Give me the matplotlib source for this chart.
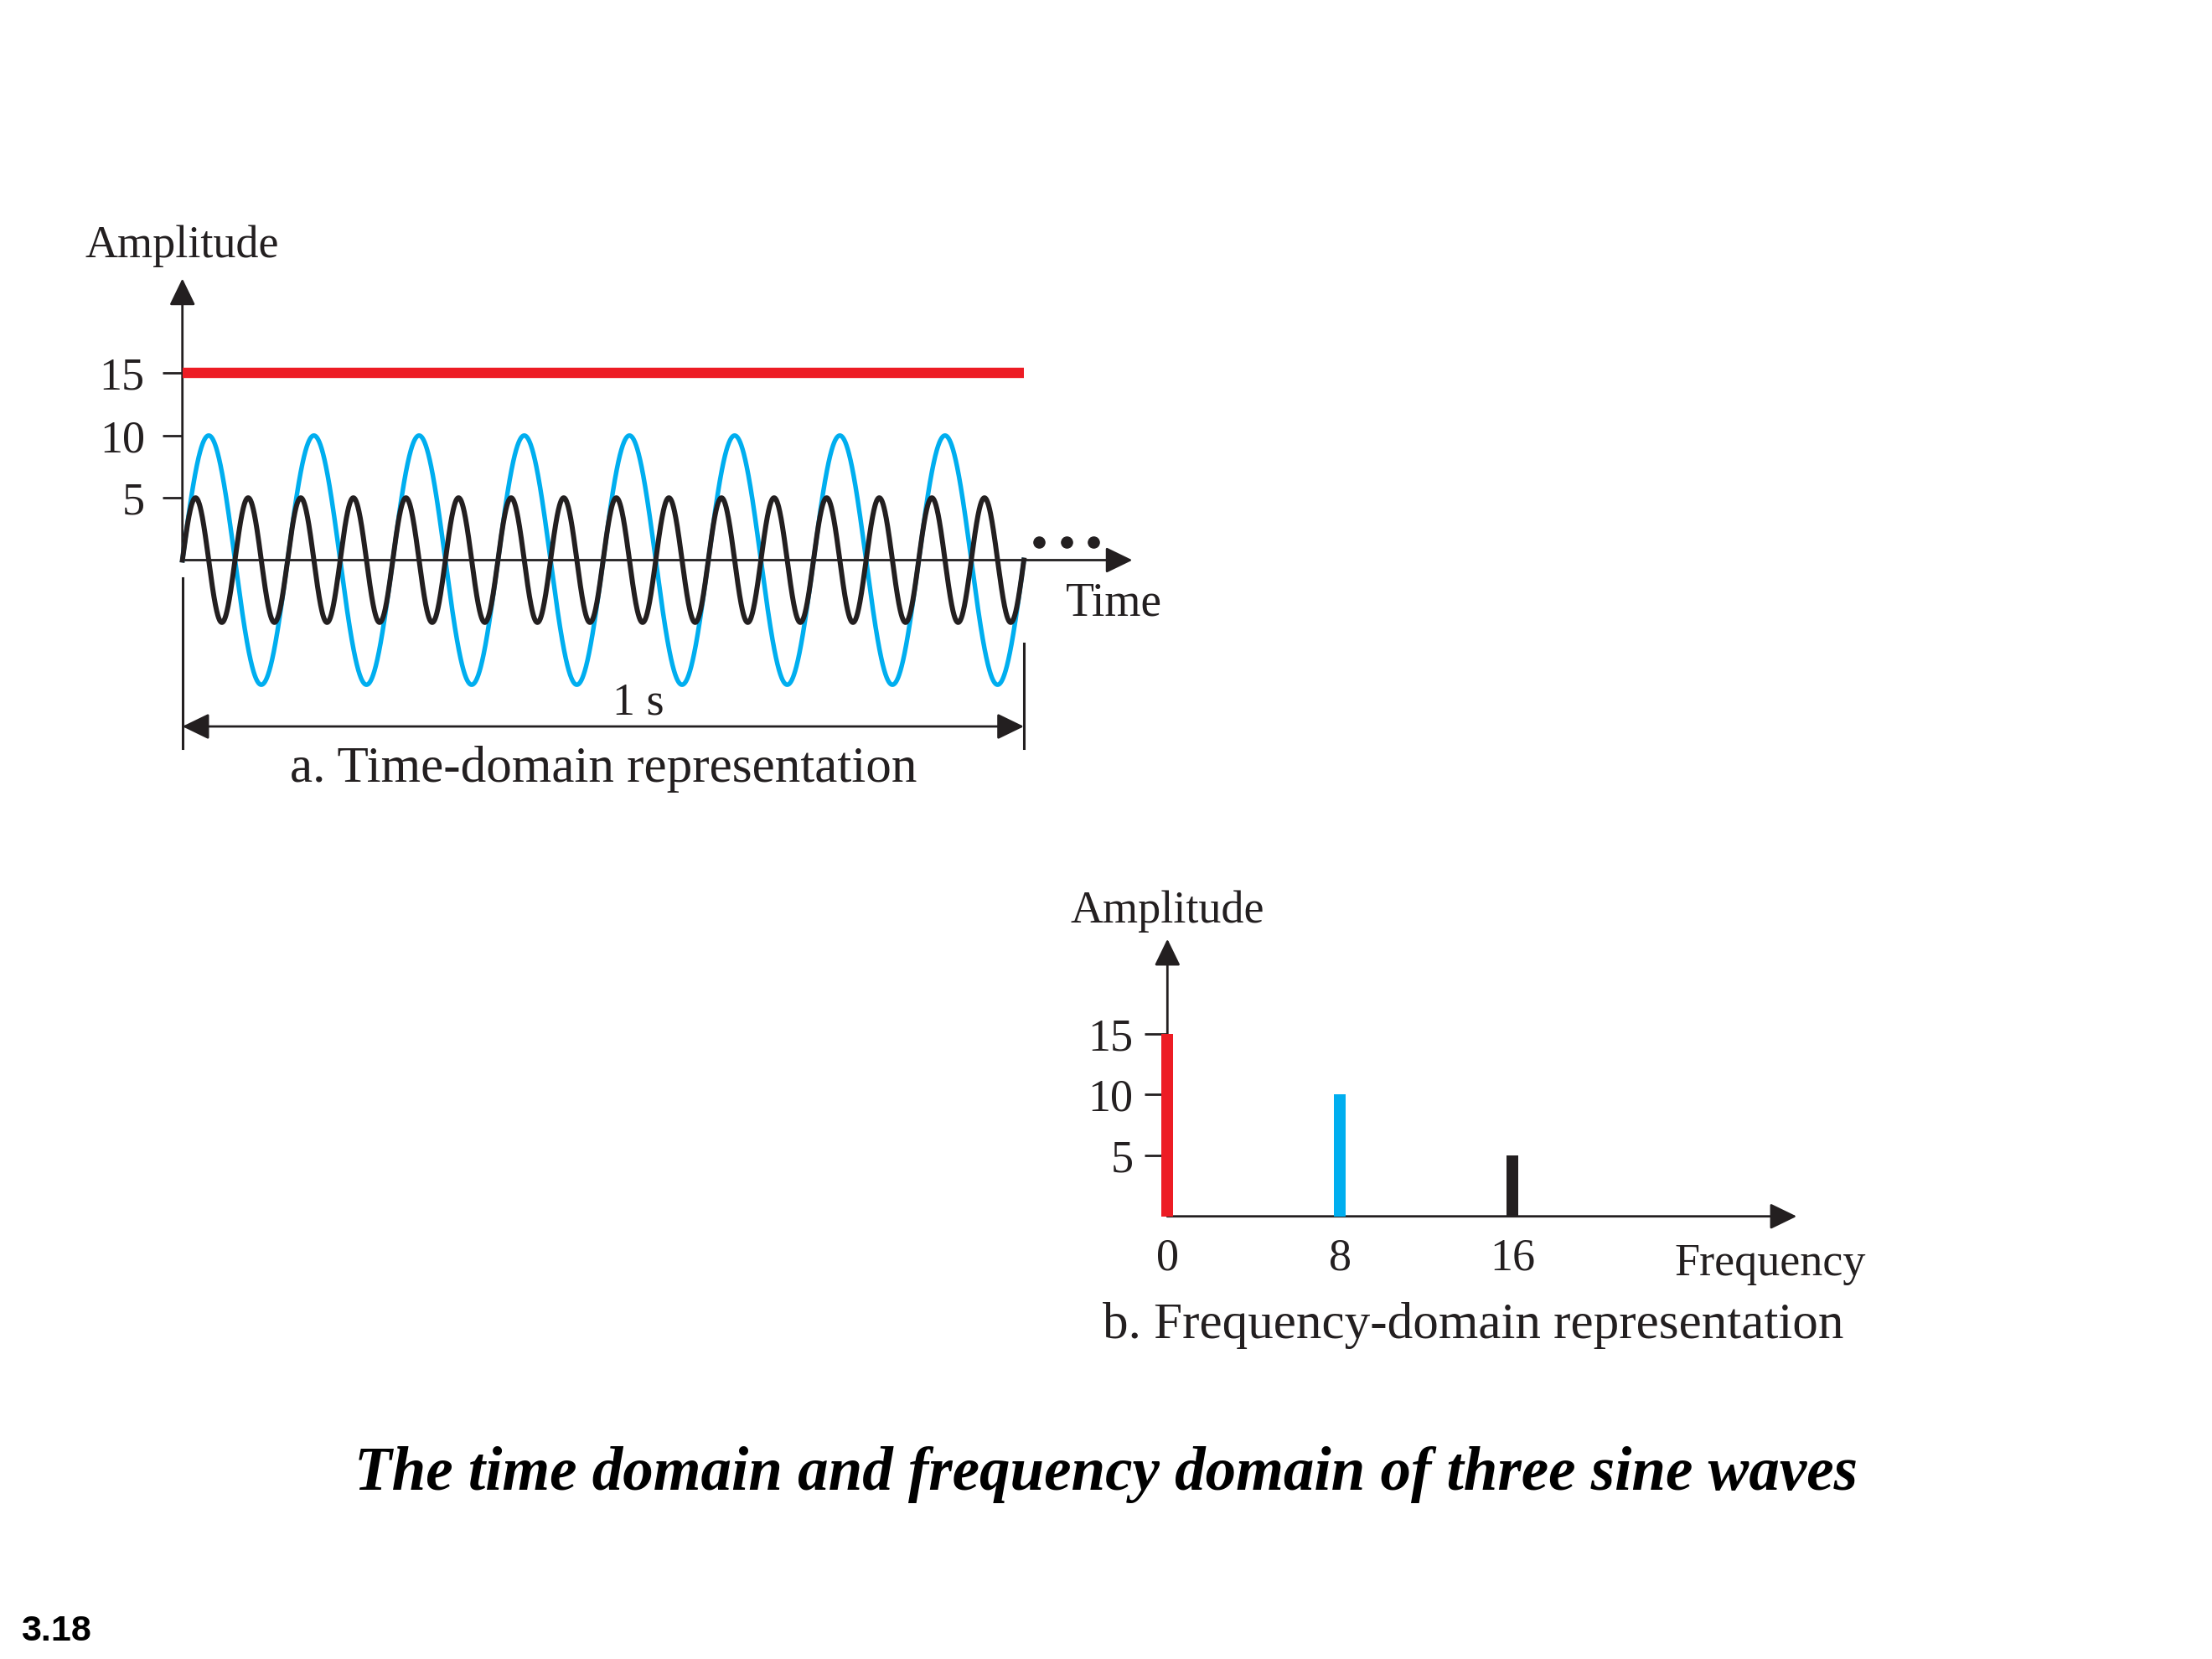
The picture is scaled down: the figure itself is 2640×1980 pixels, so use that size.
import numpy as np
import matplotlib
matplotlib.use("Agg")
import matplotlib.pyplot as plt

# ---------------- data ----------------
dc_level = 15                 # constant (0 Hz) component
wave_freqs = [8, 16]          # Hz
wave_amps = [10, 5]
duration = 1.0                # seconds shown
spectrum_freqs = [0, 8, 16]
spectrum_amps = [15, 10, 5]
y_ticks = [5, 10, 15]
freq_ticks = [0, 8, 16]

RED = '#ED1C24'
BLUE = '#00AEEF'
BLACK = '#231F20'

W, H = 2640, 1980
plt.rcParams['font.family'] = ['Liberation Serif', 'DejaVu Serif']
fig = plt.figure(figsize=(W / 100, H / 100), dpi=100)


def place_axes(x0, y0, sx, sy, xlim, ylim):
    """x0,y0: pixel position (from top-left) of data origin; sx,sy: px per unit."""
    left = x0 + sx * xlim[0]
    right = x0 + sx * xlim[1]
    top = y0 - sy * ylim[1]
    bottom = y0 - sy * ylim[0]
    ax = fig.add_axes([left / W, 1 - bottom / H, (right - left) / W, (bottom - top) / H])
    ax.set_xlim(xlim)
    ax.set_ylim(ylim)
    for s in ax.spines.values():
        s.set_visible(False)
    ax.patch.set_alpha(0)
    return ax


def arrow(ax, start, end, style='-|>', lw=2.0):
    ax.annotate('', xy=end, xytext=start, annotation_clip=False,
                arrowprops=dict(arrowstyle=f'{style},head_length=1.4,head_width=0.68',
                                mutation_scale=14, lw=lw, color=BLACK,
                                shrinkA=0, shrinkB=0))


# ---------------- a. time domain ----------------
axA = place_axes(217.7, 668.5, 1004.3, 14.87, (0, 1.16), (-16, 23.5))
t = np.linspace(0, duration, 4000)

arrow(axA, (0, 0), (0, 22.6))
arrow(axA, (0, 0), (1.129, 0))

axA.plot([0, duration], [dc_level, dc_level], color=RED, lw=8.9,
         solid_capstyle='butt', clip_on=False, zorder=3)
axA.plot(t, wave_amps[0] * np.sin(2 * np.pi * wave_freqs[0] * t), color=BLUE,
         lw=3.9, clip_on=False, zorder=3)
axA.plot(t, wave_amps[1] * np.sin(2 * np.pi * wave_freqs[1] * t), color=BLACK,
         lw=4.3, clip_on=False, zorder=4)

# continuation dots
axA.plot([1.018, 1.051, 1.083], [1.47, 1.47, 1.47], 'o', ms=9.5, color=BLACK,
         clip_on=False)

axA.set_xticks([])
axA.set_yticks(y_ticks)
axA.tick_params(axis='y', length=17.3, width=2, pad=15, labelsize=39,
                color=BLACK, labelcolor=BLACK)

# dimension line "1 s"
axA.plot([0, 0], [-1.45, -15.1], color=BLACK, lw=2.2, clip_on=False)
axA.plot([duration, duration], [-6.7, -15.1], color=BLACK, lw=2.2, clip_on=False)
arrow(axA, (0, -13.35), (duration, -13.35), style='<|-|>')
axA.text(0.542, -12.39, '1 s', ha='center', va='baseline', fontsize=39, color=BLACK)

axA.text(0, 24.29, 'Amplitude', ha='center', va='baseline', fontsize=39, color=BLACK)
axA.text(1.0496, -4.47, 'Time', ha='left', va='baseline', fontsize=40, color=BLACK)
axA.text(0.5, -17.79, 'a. Time-domain representation', ha='center', va='baseline',
         fontsize=44, color=BLACK)

# ---------------- b. frequency domain ----------------
axB = place_axes(1393.3, 1451.7, 25.73, 14.52, (0, 30), (0, 23.5))
arrow(axB, (0, 0), (0, 22.8))
arrow(axB, (0, 0), (29.19, 0))

axB.bar(spectrum_freqs, spectrum_amps, width=0.54, color=[RED, BLUE, BLACK],
        zorder=3, clip_on=False)

axB.set_xticks(freq_ticks)
axB.tick_params(axis='x', length=0, pad=18, labelsize=39, labelcolor=BLACK)
axB.set_yticks(y_ticks)
axB.tick_params(axis='y', length=19.4, width=2, pad=10, labelsize=39,
                color=BLACK, labelcolor=BLACK)

axB.text(0, 24.15, 'Amplitude', ha='center', va='baseline', fontsize=39, color=BLACK)
axB.text(23.5, -4.82, 'Frequency', ha='left', va='baseline', fontsize=39, color=BLACK)
axB.text(14.19, -10.0, 'b. Frequency-domain representation', ha='center',
         va='baseline', fontsize=44, color=BLACK)

# ---------------- figure texts ----------------
fig.text(0.5, 1 - 1778 / H, 'The time domain and frequency domain of three sine waves',
         ha='center', va='baseline', fontsize=52.6, fontweight='bold', fontstyle='italic',
         family='Liberation Serif', color='black')
fig.text(25 / W, 1 - 1958.3 / H, '3.18', ha='left', va='baseline', fontsize=31,
         fontweight='bold', family='Liberation Sans', color='black')

fig.savefig('out.png', dpi=100)
